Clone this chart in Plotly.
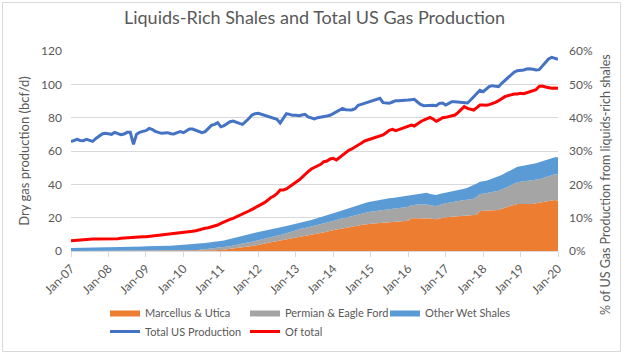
import pandas as pd
import plotly.graph_objects as go

# ---------------- data (monthly, Jan-2007 .. Jan-2020) ----------------
months = pd.date_range("2007-01-01", "2020-01-01", freq="MS")

marcellus_utica = [
    0, 0, 0, 0, 0, 0, 0, 0, 0, 0, 0, 0,
    0, 0, 0, 0, 0, 0, 0, 0, 0, 0, 0, 0,
    0, 0, 0, 0, 0, 0, 0, 0, 0, 0, 0, 0,
    0.1, 0.1, 0.2, 0.2, 0.2, 0.3, 0.3, 0.3, 0.4, 0.4, 0.5, 0.5,
    0.6, 0.8, 1.0, 1.2, 1.4, 1.6, 1.9, 2.2, 2.5, 2.8, 3.0, 3.3,
    3.6, 4.0, 4.4, 4.8, 5.2, 5.6, 6.0, 6.4, 6.8, 7.2, 7.5, 7.8,
    8.1, 8.4, 8.7, 9.0, 9.3, 9.6, 9.9, 10.2, 10.6, 11.1, 11.6, 12.1,
    12.6, 12.9, 13.2, 13.5, 13.9, 14.2, 14.4, 14.8, 15.2, 15.6, 15.9, 16.2,
    16.3, 16.5, 16.6, 16.8, 17.0, 17.1, 17.2, 17.4, 17.5, 17.6, 17.8, 18.0,
    18.2, 19.6, 19.7, 19.6, 19.6, 19.5, 19.6, 19.6, 19.2, 19.0, 19.5, 20.0,
    20.2, 20.4, 20.5, 20.6, 20.8, 20.9, 21.1, 21.2, 21.4, 21.6, 21.8, 24.0,
    24.1, 24.2, 24.3, 24.4, 24.5, 24.6, 25.3, 26.0, 26.6, 27.2, 27.7, 28.2,
    28.2, 28.1, 28.2, 28.3, 28.2, 28.6, 29.0, 29.3, 29.6, 30.0, 30.3, 30.6,
    30.2,
]

permian_eagle_ford = [
    0, 0, 0, 0, 0, 0, 0, 0, 0, 0, 0, 0,
    0, 0, 0, 0, 0, 0, 0, 0, 0, 0, 0, 0,
    0, 0, 0, 0, 0, 0, 0, 0, 0, 0, 0, 0,
    0, 0.1, 0.1, 0.2, 0.3, 0.4, 0.5, 0.6, 0.8, 0.9, 1.1, 1.3,
    1.4, 1.5, 1.6, 1.7, 1.9, 2.0, 2.1, 2.2, 2.3, 2.4, 2.6, 2.7,
    2.8, 2.8, 2.8, 2.8, 2.8, 2.9, 3.0, 3.1, 3.2, 3.4, 3.7, 4.0,
    4.5, 4.8, 4.8, 4.8, 4.9, 5.0, 5.1, 5.4, 5.5, 5.5, 5.5, 5.5,
    5.6, 5.7, 5.9, 6.1, 6.1, 6.3, 6.6, 6.6, 6.6, 6.7, 6.9, 7.0,
    7.2, 7.3, 7.5, 7.6, 7.6, 7.7, 7.8, 7.9, 8.0, 8.2, 8.2, 8.3,
    8.4, 7.9, 8.1, 8.3, 8.4, 8.5, 8.4, 8.0, 8.0, 8.0, 8.1, 8.2,
    8.4, 8.5, 8.8, 9.0, 9.1, 9.3, 9.5, 9.6, 9.6, 9.7, 10.7, 10.2,
    10.3, 10.6, 10.9, 11.1, 11.1, 11.6, 11.6, 11.6, 12.0, 12.4, 12.9, 13.0,
    13.4, 13.7, 13.8, 13.8, 14.0, 14.0, 14.0, 14.3, 14.7, 15.0, 15.3, 15.4,
    15.8,
]

other_wet_shales = [
    1.8, 1.8, 1.9, 1.9, 1.9, 2.0, 2.0, 2.0, 2.1, 2.1, 2.2, 2.2,
    2.3, 2.3, 2.4, 2.4, 2.4, 2.5, 2.5, 2.6, 2.5, 2.6, 2.7, 2.7,
    2.8, 2.8, 2.9, 2.9, 3.0, 3.0, 3.1, 3.1, 3.2, 3.3, 3.4, 3.5,
    3.5, 3.5, 3.5, 3.6, 3.6, 3.6, 3.8, 3.9, 3.8, 3.9, 3.8, 3.8,
    3.8, 4.0, 4.2, 4.4, 4.6, 4.8, 4.8, 4.9, 4.9, 4.9, 5.0, 5.0,
    5.0, 5.0, 4.8, 4.7, 4.6, 4.6, 4.6, 4.5, 4.5, 4.4, 4.3, 4.2,
    3.9, 3.8, 3.9, 4.0, 4.0, 4.0, 4.1, 4.0, 4.1, 4.2, 4.3, 4.4,
    4.4, 4.6, 4.7, 4.8, 5.0, 5.1, 5.2, 5.4, 5.6, 5.7, 5.8, 6.0,
    6.1, 6.2, 6.2, 6.2, 6.4, 6.5, 6.6, 6.5, 6.6, 6.6, 6.6, 6.7,
    6.9, 6.4, 6.4, 6.6, 6.8, 7.0, 7.0, 6.6, 6.6, 6.6, 6.6, 6.4,
    6.4, 6.3, 6.2, 6.2, 6.3, 6.6, 6.8, 7.2, 7.8, 8.2, 8.0, 7.4,
    7.4, 7.4, 7.6, 7.9, 8.4, 8.4, 8.7, 9.0, 9.0, 9.0, 9.0, 9.4,
    9.3, 9.4, 9.5, 9.7, 10.0, 10.1, 10.2, 10.2, 10.1, 10.0, 10.0, 10.2,
    10.2,
]

total_us_production = [
    65.6, 66.3, 67.0, 66.3, 66.2, 67.0, 66.2, 65.8, 67.5, 68.8, 70.2, 70.6,
    70.2, 70.0, 71.2, 70.6, 69.8, 70.2, 71.2, 71.2, 64.0, 70.0, 71.2, 71.8,
    72.2, 73.5, 73.0, 71.8, 71.0, 70.6, 70.8, 71.0, 70.4, 70.2, 71.0, 71.6,
    71.0, 72.0, 73.2, 73.2, 72.6, 71.8, 71.0, 71.6, 73.5, 75.4, 76.0, 77.0,
    74.5, 75.2, 76.4, 77.6, 78.0, 77.5, 76.6, 76.0, 77.5, 79.5, 81.6, 82.4,
    82.6, 82.0, 81.4, 81.0, 80.4, 79.8, 79.0, 76.8, 80.0, 82.4, 82.0, 81.4,
    81.4, 81.2, 81.6, 82.0, 80.5, 80.0, 79.2, 80.0, 80.2, 80.6, 81.0, 81.4,
    82.4, 83.6, 84.6, 85.6, 84.8, 84.6, 84.6, 85.4, 87.4, 88.0, 88.6, 89.0,
    89.5, 90.0, 91.0, 91.6, 89.0, 88.6, 88.6, 89.4, 90.2, 90.2, 90.2, 90.4,
    90.6, 90.8, 91.0, 89.4, 88.0, 87.2, 87.4, 87.4, 87.4, 87.2, 88.6, 88.8,
    87.6, 88.6, 89.6, 89.5, 89.4, 89.2, 89.0, 88.8, 90.6, 92.6, 94.6, 96.4,
    95.6, 97.4, 98.6, 99.2, 99.0, 98.6, 100.6, 102.4, 104.0, 105.4, 107.4, 108.2,
    108.2, 108.6, 109.2, 109.4, 109.0, 108.6, 108.8, 111.0, 113.0, 115.2, 116.2, 115.6,
    115.0,
]

pct_of_total = [
    3.1, 3.2, 3.3, 3.4, 3.4, 3.5, 3.5, 3.6, 3.6, 3.6, 3.5, 3.5,
    3.5, 3.5, 3.6, 3.7, 3.8, 3.9, 4.0, 4.0, 4.1, 4.2, 4.2, 4.3,
    4.3, 4.4, 4.5, 4.6, 4.7, 4.8, 4.8, 4.9, 5.0, 5.1, 5.2, 5.3,
    5.4, 5.6, 5.8, 5.9, 6.1, 6.4, 6.6, 6.8, 7.0, 7.2, 7.4, 7.8,
    8.3, 8.8, 9.1, 9.5, 9.8, 10.2, 10.6, 11.2, 11.6, 12.0, 12.5, 13.0,
    13.4, 14.0, 14.5, 15.2, 16.0, 16.5, 17.2, 18.3, 18.3, 18.6, 19.2, 19.8,
    20.6, 21.3, 22.0, 22.8, 23.8, 24.6, 25.0, 25.4, 26.0, 26.8, 27.0, 27.6,
    27.8, 27.3, 28.0, 28.6, 29.3, 30.2, 30.6, 31.3, 31.8, 32.3, 33.0, 33.3,
    33.6, 34.0, 34.2, 34.5, 34.8, 35.5, 36.2, 36.5, 36.1, 36.4, 36.8, 37.2,
    37.5, 37.8, 37.5, 38.3, 38.8, 39.3, 39.8, 40.1, 39.6, 38.9, 39.4, 40.0,
    40.1, 40.3, 40.6, 40.8, 41.5, 42.3, 43.3, 42.8, 42.5, 42.3, 43.0, 43.8,
    43.8, 43.7, 43.9, 44.2, 44.6, 45.1, 45.8, 46.3, 46.6, 46.9, 47.1, 47.1,
    47.3, 47.2, 47.5, 47.6, 48.0, 48.4, 49.4, 49.5, 49.2, 48.9, 48.8, 48.9,
    48.8,
]

left_ticks = [0, 20, 40, 60, 80, 100, 120]
right_ticks = [0, 10, 20, 30, 40, 50, 60]
right_tick_labels = [f"{v}%" for v in right_ticks]

# ---------------- styling ----------------
FONT = "Lato"
TXT = "#595959"
GRID = "#D9D9D9"

fig = go.Figure()

area_specs = [
    ("Marcellus & Utica", marcellus_utica, "#ED7D31"),
    ("Permian & Eagle Ford", permian_eagle_ford, "#A5A5A5"),
    ("Other Wet Shales", other_wet_shales, "#5B9BD5"),
]
for name, vals, col in area_specs:
    fig.add_trace(go.Scatter(
        x=months, y=vals, name=name, mode="lines",
        stackgroup="shales", line=dict(width=0, color=col),
        fillcolor=col, yaxis="y",
    ))

fig.add_trace(go.Scatter(
    x=months, y=total_us_production, name="Total US Production",
    mode="lines", line=dict(color="#4472C4", width=3), yaxis="y",
))
fig.add_trace(go.Scatter(
    x=months, y=pct_of_total, name="Of total",
    mode="lines", line=dict(color="#FF0000", width=3), yaxis="y2",
))

W, H = 630, 355
ML, MR, MT, MB = 71, 72, 51, 104
PW, PH = W - ML - MR, H - MT - MB

def px_x(px):
    return (px - ML) / PW

def px_y(py):
    return (H - MB - py) / PH

fig.update_layout(
    width=W, height=H,
    margin=dict(l=ML, r=MR, t=MT, b=MB, autoexpand=False),
    paper_bgcolor="white", plot_bgcolor="white",
    font=dict(family=FONT, size=12, color=TXT),
    title=dict(
        text="Liquids-Rich Shales and Total US Gas Production",
        x=0.5, xref="paper", xanchor="center",
        y=1 - 18 / H, yanchor="middle",
        font=dict(family=FONT, size=18, color=TXT),
    ),
    xaxis=dict(
        type="date",
        range=["2007-01-01", "2020-01-01"],
        tick0="2007-01-01", dtick="M12", tickformat="%b-%y",
        tickangle=-45,
        showgrid=False, showline=True, linecolor=GRID, linewidth=1,
        ticks="outside", ticklen=5, tickcolor=GRID,
        tickfont=dict(size=12, color=TXT),
        zeroline=False,
    ),
    yaxis=dict(
        range=[0, 120], tickvals=left_ticks,
        showgrid=True, gridcolor=GRID, gridwidth=1,
        zeroline=False, showline=False, ticks="",
        tickfont=dict(size=12, color=TXT),
        ticklabelstandoff=8,
        title=dict(text="Dry gas production (bcf/d)",
                   font=dict(size=13, color=TXT), standoff=8),
    ),
    yaxis2=dict(
        overlaying="y", side="right",
        range=[0, 60], tickvals=right_ticks, ticktext=right_tick_labels,
        showgrid=False, zeroline=False, showline=False, ticks="",
        tickfont=dict(size=12, color=TXT),
        ticklabelstandoff=10,
    ),
    legend=dict(
        orientation="h",
        x=px_x(105), xanchor="left",
        y=px_y(298), yanchor="top",
        entrywidth=95, entrywidthmode="pixels",
        itemwidth=30,
        font=dict(size=11, color=TXT),
        bgcolor="rgba(0,0,0,0)",
        traceorder="normal",
        tracegroupgap=0,
    ),
    showlegend=True,
)

# right axis title (placed as in the reference, lower than axis centre)
fig.add_annotation(
    text="% of US Gas Production from liquids-rich shales",
    xref="paper", yref="paper",
    x=px_x(605), y=px_y(185),
    showarrow=False, textangle=-90,
    font=dict(family=FONT, size=12.5, color=TXT),
    xanchor="center", yanchor="middle",
)

# chart outer border
fig.add_shape(
    type="rect", xref="paper", yref="paper",
    x0=px_x(2.5), x1=px_x(620.5), y0=px_y(351.5), y1=px_y(2.5),
    line=dict(color=GRID, width=1), fillcolor="rgba(0,0,0,0)", layer="below",
)

fig.write_html(
    "out.html",
    config={"displayModeBar": False},
    post_script="document.body.style.margin='0';document.body.style.overflow='hidden';",
)
